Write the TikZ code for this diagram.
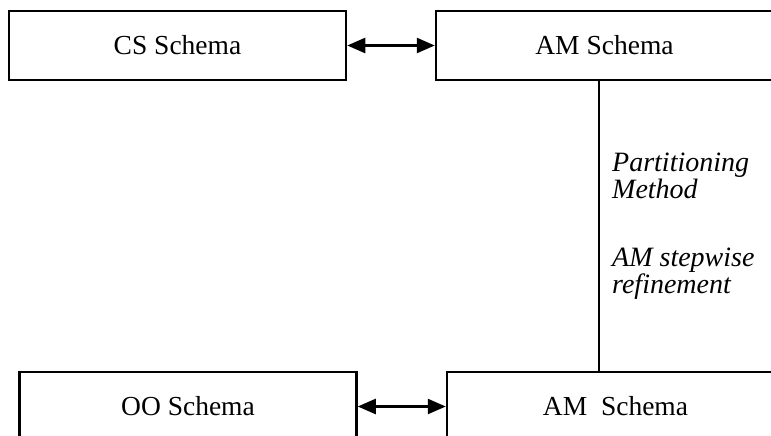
\documentclass[tikz,border=0pt]{standalone}
\usepackage{fontspec}
\setmainfont{Liberation Serif}
\usetikzlibrary{arrows.meta}
\begin{document}
\begin{tikzpicture}[x=1pt,y=-1pt,
  box/.style={draw=black,line width=2.5pt,minimum width=337pt,minimum height=69pt,inner sep=0pt,font=\fontsize{27.5}{30}\selectfont},
  link/.style={line width=2.5pt,{Triangle[length=18pt,width=15pt]}-{Triangle[length=18pt,width=15pt]}},
  lbl/.style={font=\fontsize{28}{30}\selectfont\itshape,anchor=base west,inner sep=0pt}]
\useasboundingbox (0,0) rectangle (771,436);
\clip (0,0) rectangle (771,436);
\fill[white] (0,0) rectangle (771,436);
\node[box] (cs) at (177.5,45.5) {CS Schema};
\node[box] (amt) at (604.5,45.5) {AM Schema};
\node[box] (oo) at (188,406.5) {OO Schema};
\node[box] (amb) at (615.5,406.5) {\raisebox{-5pt}{AM\ \ Schema}};
\draw[link] (cs.east) -- (amt.west);
\draw[link] (oo.east) -- (amb.west);
\coordinate (vt) at (599,80);
\coordinate (vb) at (599,372);
\draw[line width=2.5pt] (vt) -- (vb);
\node[lbl] (p1) at (612,171) {Partitioning};
\node[lbl] (p2) at (612,198) {Method};
\node[lbl] (p3) at (612,266) {AM stepwise};
\node[lbl] (p4) at (612,293) {refinement};
\end{tikzpicture}
\end{document}
